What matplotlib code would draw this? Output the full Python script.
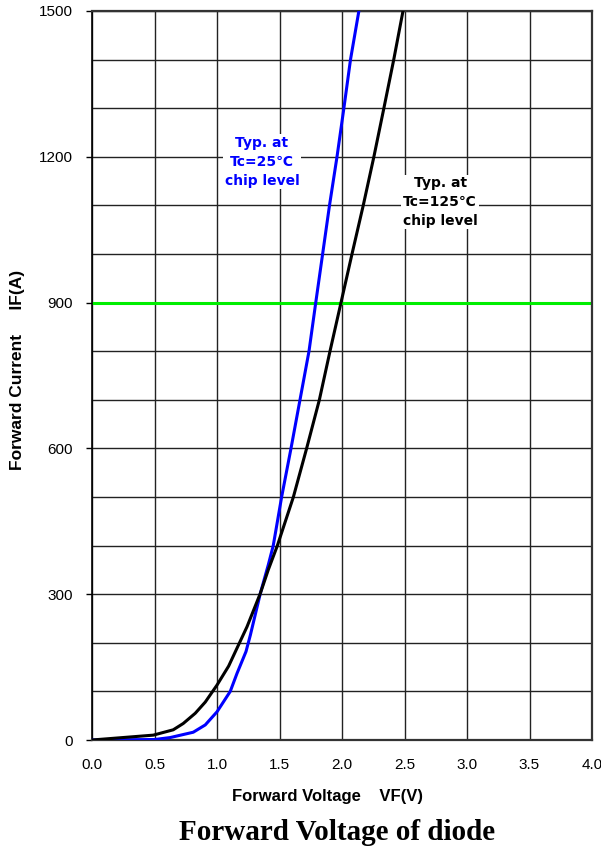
import numpy as np
import matplotlib.pyplot as plt
from matplotlib.ticker import MultipleLocator

# Datos (VF en V, IF en A)
vf_25 = [0.0, 0.5, 0.625, 0.81, 0.906, 1.0, 1.106, 1.16, 1.232, 1.267, 1.347, 1.41,
         1.45, 1.517, 1.592, 1.664, 1.736, 1.79, 1.845, 1.90, 1.96, 2.015, 2.068, 2.135]
if_25 = [0, 1, 5, 16, 31, 58, 100, 137, 182, 216, 302, 360,
         400, 500, 600, 700, 800, 900, 1000, 1100, 1200, 1300, 1400, 1500]

vf_125 = [0.0, 0.49, 0.65, 0.73, 0.826, 0.906, 1.0, 1.093, 1.16, 1.24, 1.347, 1.41,
          1.483, 1.611, 1.717, 1.819, 1.904, 1.992, 2.08, 2.17, 2.255, 2.335, 2.414, 2.488]
if_125 = [0, 10, 21, 34, 55, 78, 113, 152, 189, 233, 302, 350,
          400, 500, 600, 700, 800, 900, 1000, 1100, 1200, 1300, 1400, 1500]

ref_current = 900

x_ticks = np.arange(0, 4.01, 0.5)
y_ticks = [0, 300, 600, 900, 1200, 1500]

fig = plt.figure(figsize=(6.01, 8.51), dpi=100)
ax = fig.add_axes([92 / 601, 111 / 851, 500 / 601, 729 / 851])

ax.set_xlim(0, 4)
ax.set_ylim(0, 1500)
ax.set_xticks(x_ticks)
ax.set_xticklabels([f'{v:.1f}' for v in x_ticks])
ax.set_yticks(y_ticks)
ax.yaxis.set_minor_locator(MultipleLocator(100))

ax.grid(True, which='major', axis='both', color='#222222', linewidth=1.0)
ax.grid(True, which='minor', axis='y', color='#222222', linewidth=1.0)
ax.set_axisbelow(True)

ax.tick_params(axis='x', length=0, pad=13, labelsize=11)
ax.tick_params(axis='y', which='major', length=4, width=1, pad=10, labelsize=11)
ax.tick_params(axis='y', which='minor', length=0)
for lab in ax.get_xticklabels() + ax.get_yticklabels():
    lab.set_family('Liberation Sans')

for side in ['top', 'right', 'bottom']:
    ax.spines[side].set_color('#333333')
    ax.spines[side].set_linewidth(1.6)
ax.spines['left'].set_color('black')
ax.spines['left'].set_linewidth(1.2)

ax.axhline(ref_current, color='#00ee00', linewidth=2.2, zorder=2)
ax.plot(vf_25, if_25, color='#0000ff', linewidth=2.2, zorder=3)
ax.plot(vf_125, if_125, color='black', linewidth=2.2, zorder=3)

label_font = ['DejaVu Sans', 'Noto Sans CJK KR']
ax.text(1.36, 1190, 'Typ. at\nTc=25℃\nchip level', color='#0000ff', ha='center', va='center',
        fontsize=10, fontweight='bold', family=label_font,
        linespacing=1.45, zorder=4,
        bbox=dict(facecolor='white', edgecolor='none', pad=1))
ax.text(2.785, 1107, 'Typ. at\nTc=125℃\nchip level', color='black', ha='center', va='center',
        fontsize=10, fontweight='bold', family=label_font,
        linespacing=1.45, zorder=4,
        bbox=dict(facecolor='white', edgecolor='none', pad=1))

ax.set_xlabel('Forward Voltage    VF(V)', fontsize=12, fontweight='bold',
              family='Liberation Sans')
ax.set_ylabel('Forward Current     IF(A)', fontsize=12.5, fontweight='bold',
              family='Liberation Sans')
ax.xaxis.set_label_coords(0.47, -0.078)
ax.yaxis.set_label_coords(-0.148, 0.507)
ax.xaxis.label.set_va('center')
ax.yaxis.label.set_va('center')

fig.text(337 / 601, 1 - 832 / 851, 'Forward Voltage of diode', ha='center', va='center',
         fontsize=21, fontweight='bold', family='Liberation Serif')

fig.savefig('out.png', dpi=100)
